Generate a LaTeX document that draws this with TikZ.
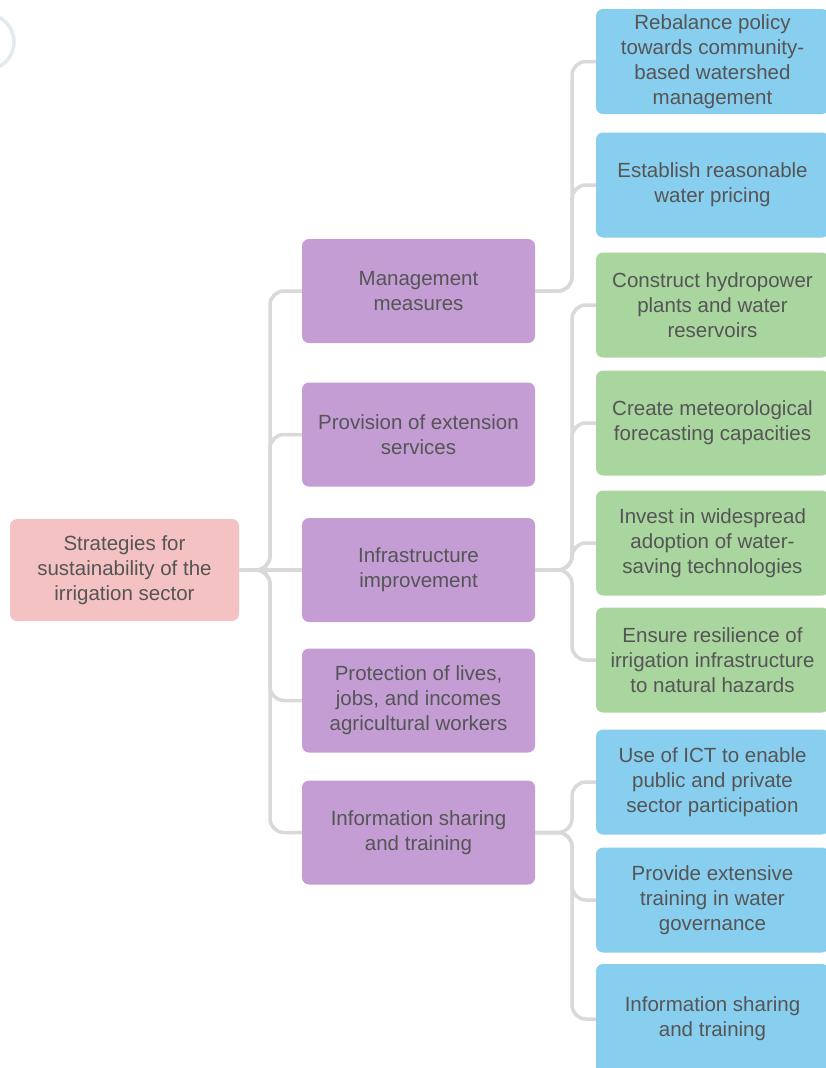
\documentclass[tikz,border=0pt]{standalone}
\usepackage{fontspec}
\setmainfont{Liberation Sans}
\definecolor{txtgray}{HTML}{555555}
\definecolor{linkgray}{HTML}{D9D9D9}
\definecolor{rootpink}{HTML}{F4C2C2}
\definecolor{midpurple}{HTML}{C39DD4}
\definecolor{leafblue}{HTML}{88CEEF}
\definecolor{leafgreen}{HTML}{A9D59F}
\definecolor{ringgray}{HTML}{E2EAEF}
\begin{document}
\begin{tikzpicture}[x=1pt,y=-1pt,
  box/.style={rounded corners=7pt, align=center, text=txtgray, inner sep=0pt,
    font=\fontsize{20.5}{25}\selectfont},
  rootbox/.style={box, fill=rootpink, minimum width=229pt, minimum height=102pt},
  midbox/.style={box, fill=midpurple, minimum width=233pt, minimum height=104pt},
  bluebox/.style={box, fill=leafblue, minimum width=233pt, minimum height=105pt},
  greenbox/.style={box, fill=leafgreen, minimum width=233pt, minimum height=105pt},
  link/.style={draw=linkgray, line width=3.5pt, rounded corners=14pt}]
\useasboundingbox (0,0) rectangle (826,1068);
\clip (0,0) rectangle (826,1068);
\fill[white] (0,0) rectangle (826,1068);

% faint ring at the top-left corner
\draw[ringgray, line width=3.5pt] (-14,42) circle (28);

% root
\node[rootbox] (root) at (124.5,570) {Strategies for\\sustainability of the\\irrigation sector};

% strategy groups
\node[midbox] (m1) at (418.5,291) {Management\\measures};
\node[midbox] (m2) at (418.5,434.5) {Provision of extension\\services};
\node[midbox] (m3) at (418.5,570) {Infrastructure\\improvement};
\node[midbox] (m4) at (418.5,700.5) {Protection of lives,\\jobs, and incomes\\agricultural workers};
\node[midbox] (m5) at (418.5,832.5) {Information sharing\\and training};

% actions
\node[bluebox] (a1) at (712.5,61.5) {Rebalance policy\\towards community-\\based watershed\\management};
\node[bluebox] (a2) at (712.5,185) {Establish reasonable\\water pricing};
\node[greenbox] (b1) at (712.5,305) {Construct hydropower\\plants and water\\reservoirs};
\node[greenbox] (b2) at (712.5,423) {Create meteorological\\forecasting capacities};
\node[greenbox] (b3) at (712.5,543) {Invest in widespread\\adoption of water-\\saving technologies};
\node[greenbox] (b4) at (712.5,660) {Ensure resilience of\\irrigation infrastructure\\to natural hazards};
\node[bluebox] (c1) at (712.5,782) {Use of ICT to enable\\public and private\\sector participation};
\node[bluebox] (c2) at (712.5,900) {Provide extensive\\training in water\\governance};
\node[bluebox, minimum height=110pt] (c3) at (712.5,1019) {Information sharing\\and training};

% root to groups
\foreach \m in {m1,m2,m4,m5}
  \draw[link] (root.east) -- (270,570) |- (\m.west);
\draw[link] (root.east) -- (m3.west);

% groups to actions
\foreach \a in {a1,a2}
  \draw[link] (m1.east) -- (572,291) |- (\a.west);
\foreach \a in {b1,b2,b3,b4}
  \draw[link] (m3.east) -- (572,570) |- (\a.west);
\foreach \a in {c1,c2,c3}
  \draw[link] (m5.east) -- (572,832.5) |- (\a.west);
\end{tikzpicture}
\end{document}
